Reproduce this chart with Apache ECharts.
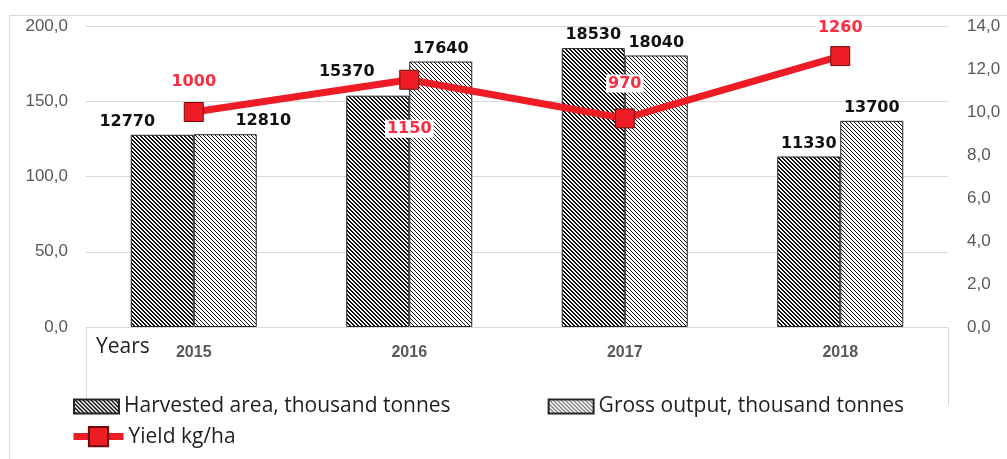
<!DOCTYPE html>
<html>
<head>
<meta charset="utf-8">
<script src="https://cdn.jsdelivr.net/npm/echarts@6/dist/echarts.min.js"></script>
<style>
  html, body { margin: 0; padding: 0; background: #fff; }
  #chart { width: 1007px; height: 459px; }
</style>
</head>
<body>
<div id="chart"></div>
<script>
// data
var years = ['2015', '2016', '2017', '2018'];
var harvestedArea = [12770, 15370, 18530, 11330];
var grossOutput = [12810, 17640, 18040, 13700];
var yieldKgHa = [1000, 1150, 970, 1260];
var leftTickLabels = ['0,0', '50,0', '100,0', '150,0', '200,0'];
var rightTickLabels = ['0,0', '2,0', '4,0', '6,0', '8,0', '10,0', '12,0', '14,0'];

// label placement, moved by hand in the original
var harvestedLabelOffset = [[-35, 0], [-31, -11], [0, 0], [0, 0]];
var grossLabelOffset = [[38, 0], [0, 0], [0, 0], [0, 0]];
var yieldLabelPos = ['top', 'bottom', 'top', 'top'];
var yieldLabelDist = [11, 30, 16, 9];

// hatch fill: "\" stripes, 4px period
function hatch(black) {
	var c = document.createElement('canvas');
	c.width = 4; c.height = 4;
	var ctx = c.getContext('2d');
	var img = ctx.createImageData(4, 4);
	for (var y = 0; y < 4; y++) {
		for (var x = 0; x < 4; x++) {
			var k = ((x - y) % 4 + 4) % 4;
			var v = k < black ? 15 : 255;
			var i = (y * 4 + x) * 4;
			img.data[i] = v; img.data[i + 1] = v; img.data[i + 2] = v; img.data[i + 3] = 255;
		}
	}
	ctx.putImageData(img, 0, 0);
	return { image: c, repeat: 'repeat' };
}

var barLabel = {
	show: true, position: 'top', distance: 5,
	fontFamily: 'DejaVu Sans', fontWeight: 'bold', fontSize: 16, color: '#111'
};
var legendText = { fontFamily: 'Open Sans', fontSize: 21, color: '#1f1f1f' };

var myChart = echarts.init(document.getElementById('chart'));
myChart.setOption({
	animation: false,
	grid: { left: 86, right: 59, top: 26, bottom: 132 },
	graphic: [
		{ type: 'rect', silent: true, z: -1, shape: { x: 9.5, y: 15.5, width: 1010, height: 460 },
		  style: { fill: 'none', stroke: '#d9d9d9', lineWidth: 1 } },
		{ type: 'polyline', silent: true, shape: { points: [[86.5, 407], [86.5, 327.5], [948.5, 327.5], [948.5, 405]] },
		  style: { fill: 'none', stroke: '#d9d9d9', lineWidth: 1 } },
		{ type: 'text', left: 96, top: 337, silent: true,
		  style: { text: 'Years', font: '21px "Open Sans"', fill: '#1f1f1f' } }
	],
	legend: [
		{
			data: ['Harvested area, thousand tonnes', 'Gross output, thousand tonnes'],
			left: 73, top: 396, padding: 0, icon: 'rect',
			itemWidth: 45, itemHeight: 14, itemGap: 97,
			textStyle: legendText
		},
		{
			data: ['Yield kg/ha'],
			left: 70, top: 426, padding: 0, itemWidth: 50, itemHeight: 24,
			lineStyle: { width: 7 },
			textStyle: legendText
		}
	],
	xAxis: {
		type: 'category', data: years,
		axisLine: { show: false }, axisTick: { show: false },
		axisLabel: { margin: 18, fontFamily: 'Liberation Sans', fontWeight: 'bold', fontSize: 16, color: '#595959' }
	},
	yAxis: [
		{
			type: 'value', min: 0, max: 20000, interval: 5000,
			axisLine: { show: false }, axisTick: { show: false },
			splitLine: { lineStyle: { color: '#d9d9d9', width: 1 } },
			axisLabel: { margin: 18, fontFamily: 'Liberation Sans', fontSize: 17, color: '#595959',
				formatter: function (v) { return leftTickLabels[v / 5000]; } }
		},
		{
			type: 'value', min: 0, max: 1400, interval: 200,
			axisLine: { show: false }, axisTick: { show: false }, splitLine: { show: false },
			axisLabel: { margin: 19, fontFamily: 'Liberation Sans', fontSize: 17, color: '#595959',
				formatter: function (v) { return rightTickLabels[v / 200]; } }
		}
	],
	series: [
		{
			name: 'Harvested area, thousand tonnes', type: 'bar', barWidth: 63, barGap: '0%',
			itemStyle: { color: hatch(2), borderColor: '#262626', borderWidth: 1 },
			label: barLabel,
			data: harvestedArea.map(function (v, i) { return { value: v, label: { offset: harvestedLabelOffset[i] } }; })
		},
		{
			name: 'Gross output, thousand tonnes', type: 'bar', barWidth: 63,
			itemStyle: { color: hatch(1), borderColor: '#262626', borderWidth: 1 },
			label: barLabel,
			data: grossOutput.map(function (v, i) { return { value: v, label: { offset: grossLabelOffset[i] } }; })
		},
		{
			name: 'Yield kg/ha', type: 'line', yAxisIndex: 1, z: 5,
			symbol: 'rect', symbolSize: 19,
			lineStyle: { color: '#ee1c25', width: 7 },
			itemStyle: { color: '#ee1c25', borderColor: '#6b0c0c', borderWidth: 1 },
			label: {
				show: true, fontFamily: 'DejaVu Sans', fontWeight: 'bold', fontSize: 16, color: '#ff2b3f',
				backgroundColor: '#fff', padding: [1, 2]
			},
			data: yieldKgHa.map(function (v, i) {
				return { value: v, label: { position: yieldLabelPos[i], distance: yieldLabelDist[i] } };
			})
		}
	]
});
</script>
</body>
</html>
